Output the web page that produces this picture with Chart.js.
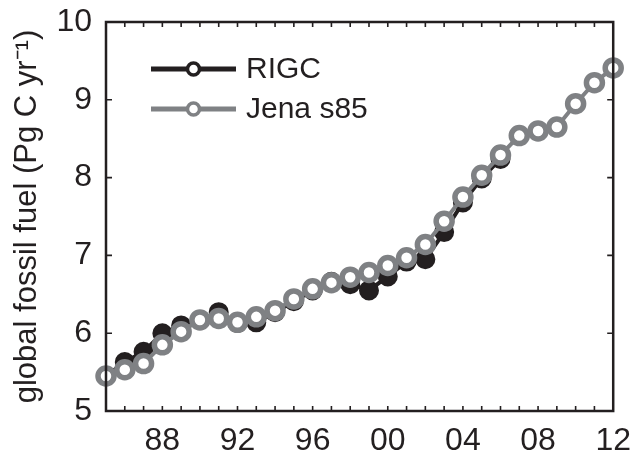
<!DOCTYPE html>
<html>
<head>
<meta charset="utf-8">
<script src="https://cdn.jsdelivr.net/npm/chart.js@4.4.1/dist/chart.umd.min.js"></script>
<style>
  html, body { margin: 0; padding: 0; background: #fff; }
  #wrap { width: 637px; height: 465px; }
</style>
</head>
<body>
<div id="wrap"><canvas id="c"></canvas></div>
<script>
// values
const years = [1985, 1986, 1987, 1988, 1989, 1990, 1991, 1992, 1993, 1994,
  1995, 1996, 1997, 1998, 1999, 2000, 2001, 2002, 2003, 2004,
  2005, 2006, 2007, 2008, 2009, 2010, 2011, 2012]
const rigc = [5.45, 5.63, 5.76, 6.0, 6.1, 6.17, 6.27, 6.13, 6.14, 6.27,
  6.41, 6.55, 6.66, 6.63, 6.55, 6.73, 6.92, 6.95, 7.3, 7.68,
  7.99, 8.24]
const jena = [5.45, 5.53, 5.61, 5.85, 6.02, 6.17, 6.19, 6.14, 6.21, 6.29,
  6.44, 6.57, 6.65, 6.72, 6.78, 6.87, 6.97, 7.14, 7.44, 7.75,
  8.03, 8.29, 8.54, 8.6, 8.65, 8.95, 9.22, 9.41]
const xLabelYears = [1988, 1992, 1996, 2000, 2004, 2008, 2012]
const yTicks = [5, 6, 7, 8, 9, 10]
const seriesNames = ['RIGC', 'Jena s85']

const FONT = '"Liberation Sans", Arial, Helvetica, sans-serif'
const INK = '#231f20'
const GREY = '#7f8184'

function points (vals) {
  return vals.map((v, i) => ({ x: years[i], y: v }))
}

// box frame with inward ticks, like the original figure
const framePlugin = {
  id: 'frame',
  afterDatasetsDraw (chart) {
    const { ctx, chartArea: a, scales } = chart
    ctx.save()
    ctx.strokeStyle = INK
    ctx.lineWidth = 2.5
    ctx.strokeRect(a.left, a.top, a.right - a.left, a.bottom - a.top)
    ctx.lineWidth = 1.6
    ctx.beginPath()
    years.forEach(yr => {
      const px = scales.x.getPixelForValue(yr)
      ctx.moveTo(px, a.bottom); ctx.lineTo(px, a.bottom - 5)
      ctx.moveTo(px, a.top); ctx.lineTo(px, a.top + 5)
    })
    yTicks.forEach(v => {
      const py = scales.y.getPixelForValue(v)
      ctx.moveTo(a.left, py); ctx.lineTo(a.left + 6, py)
      ctx.moveTo(a.right, py); ctx.lineTo(a.right - 6, py)
    })
    ctx.stroke()
    ctx.restore()
  }
}

// legend drawn inside the axes, top left
const legendPlugin = {
  id: 'innerLegend',
  afterDraw (chart) {
    const { ctx, chartArea: a } = chart
    const rows = [
      { name: seriesNames[0], color: INK, y: a.top + 47 },
      { name: seriesNames[1], color: GREY, y: a.top + 87 },
    ]
    ctx.save()
    rows.forEach(r => {
      const x0 = a.left + 45
      const x1 = a.left + 130
      ctx.strokeStyle = r.color
      ctx.lineWidth = 5
      ctx.beginPath()
      ctx.moveTo(x0, r.y); ctx.lineTo(x1, r.y)
      ctx.stroke()
      ctx.beginPath()
      ctx.arc((x0 + x1) / 2, r.y, 6, 0, Math.PI * 2)
      ctx.fillStyle = '#fff'
      ctx.fill()
      ctx.lineWidth = 3.5
      ctx.stroke()
      ctx.fillStyle = INK
      ctx.font = '30px ' + FONT
      ctx.textBaseline = 'middle'
      ctx.textAlign = 'left'
      ctx.fillText(r.name, x1 + 10, r.y + 1)
    })
    ctx.restore()
  }
}

new Chart(document.getElementById('c'), {
  type: 'line',
  data: {
    datasets: [
      {
        label: seriesNames[0],
        data: points(rigc),
        borderColor: INK,
        borderWidth: 4,
        backgroundColor: INK,
        pointBackgroundColor: INK,
        pointBorderColor: INK,
        pointRadius: 9,
        pointBorderWidth: 2,
        clip: false,
        order: 2,
      },
      {
        label: seriesNames[1],
        data: points(jena),
        borderColor: GREY,
        borderWidth: 4,
        pointBackgroundColor: '#fff',
        pointBorderColor: GREY,
        pointRadius: 8,
        pointBorderWidth: 5.5,
        clip: false,
        order: 1,
      },
    ],
  },
  options: {
    responsive: true,
    maintainAspectRatio: false,
    animation: false,
    events: [],
    layout: { padding: { top: 2, right: 17, left: 0, bottom: 0 } },
    plugins: {
      legend: { display: false },
      tooltip: { enabled: false },
    },
    scales: {
      x: {
        type: 'linear',
        min: 1985,
        max: 2012,
        afterBuildTicks: s => { s.ticks = xLabelYears.map(v => ({ value: v })) },
        afterFit: s => { s.height = 54 },
        grid: { display: false },
        border: { display: false },
        ticks: {
          autoSkip: false,
          maxRotation: 0,
          padding: 6,
          color: INK,
          font: { family: FONT, size: 32, lineHeight: 1 },
          callback: v => String(v).slice(2),
        },
      },
      y: {
        min: 5,
        max: 10,
        afterBuildTicks: s => { s.ticks = yTicks.map(v => ({ value: v })) },
        afterFit: s => { s.width = 106 },
        grid: { display: false },
        border: { display: false },
        ticks: {
          padding: 6,
          color: INK,
          font: { family: FONT, size: 32, lineHeight: 1 },
        },
        title: {
          display: true,
          text: 'global fossil fuel (Pg C yr⁻¹)',
          color: INK,
          font: { family: FONT, size: 31, lineHeight: 1 },
          padding: { top: 12, bottom: 0 },
        },
      },
    },
  },
  plugins: [framePlugin, legendPlugin],
})
</script>
</body>
</html>
